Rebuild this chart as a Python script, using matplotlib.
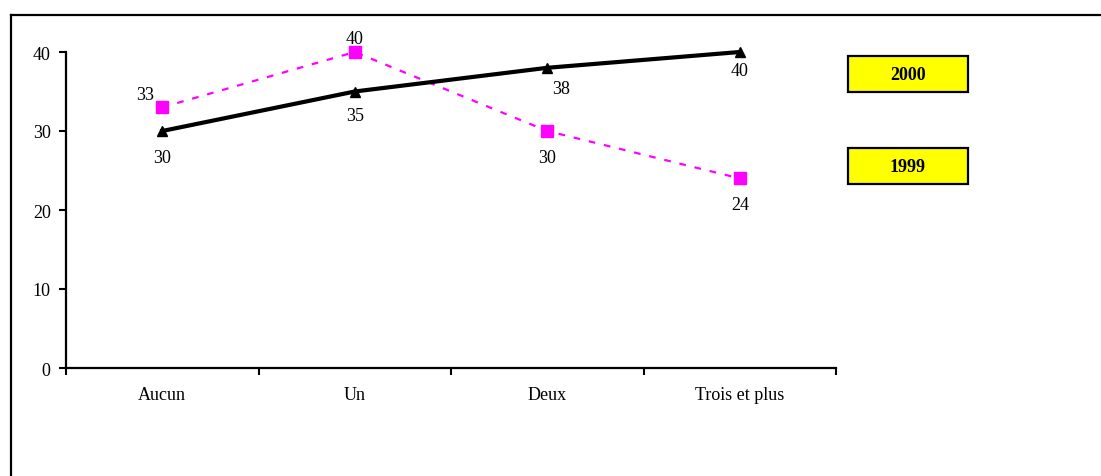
import matplotlib.pyplot as plt
from matplotlib.patches import Rectangle
from matplotlib.lines import Line2D

# Data
categories = ['Aucun', 'Un', 'Deux', 'Trois et plus']
values_2000 = [30, 35, 38, 40]
values_1999 = [33, 40, 30, 24]

# label offsets (points) for each data label
offs_2000 = [(0, -19), (0, -17), (10, -15), (0, -13)]
offs_1999 = [(-12, 9), (0, 10), (0, -19), (0, -19)]

plt.rcParams['font.family'] = ['Liberation Serif', 'DejaVu Serif']
plt.rcParams['font.size'] = 13

fig = plt.figure(figsize=(11.01, 4.77), dpi=100)
W, H = 1101, 477

# outer frame (top and left only visible)
fig.add_artist(Line2D([11 / W, 11 / W], [0, 1 - 16 / H], transform=fig.transFigure, color='black', lw=1.6))
fig.add_artist(Line2D([11 / W, 1], [1 - 16 / H, 1 - 16 / H], transform=fig.transFigure, color='black', lw=1.6))

ax = fig.add_axes([66 / W, 1 - 369 / H, (836 - 66) / W, (369 - 53) / H])
x = list(range(len(categories)))

ax.plot(x, values_1999, color='#ff00ff', lw=1.6, ls=(0, (3, 4)), marker='s', ms=8,
        markeredgecolor='#ff00ff', zorder=3, clip_on=False)
ax.plot(x, values_2000, color='black', lw=3, marker='^', ms=7, zorder=4, clip_on=False)

for xi, v, o in zip(x, values_2000, offs_2000):
    ax.annotate(str(v), (xi, v), xytext=o, textcoords='offset points', ha='center', va='center')
for xi, v, o in zip(x, values_1999, offs_1999):
    ax.annotate(str(v), (xi, v), xytext=o, textcoords='offset points', ha='center', va='center')

ax.set_xlim(-0.5, len(categories) - 0.5)
ax.set_ylim(0, 40)
ax.set_yticks([0, 10, 20, 30, 40])
ax.set_xticks(x)
ax.set_xticklabels(categories)
ax.set_xticks([i - 0.5 for i in range(len(categories) + 1)], minor=True)
ax.tick_params(axis='x', which='major', length=0, pad=13)
ax.tick_params(axis='x', which='minor', length=5, width=1.5, direction='out')
ax.tick_params(axis='y', length=5, width=1.5, direction='out', pad=6)
for s in ['top', 'right']:
    ax.spines[s].set_visible(False)
for s in ['left', 'bottom']:
    ax.spines[s].set_linewidth(1.6)

# year boxes
for label, y0 in [('2000', 57), ('1999', 149)]:
    fig.add_artist(Rectangle((848 / W, 1 - (y0 + 36) / H), 120 / W, 36 / H, transform=fig.transFigure,
                             facecolor='#ffff00', edgecolor='black', lw=1.6))
    fig.text(908 / W, 1 - (y0 + 18) / H, label, ha='center', va='center', fontweight='bold')

fig.savefig('out.png', dpi=100)
